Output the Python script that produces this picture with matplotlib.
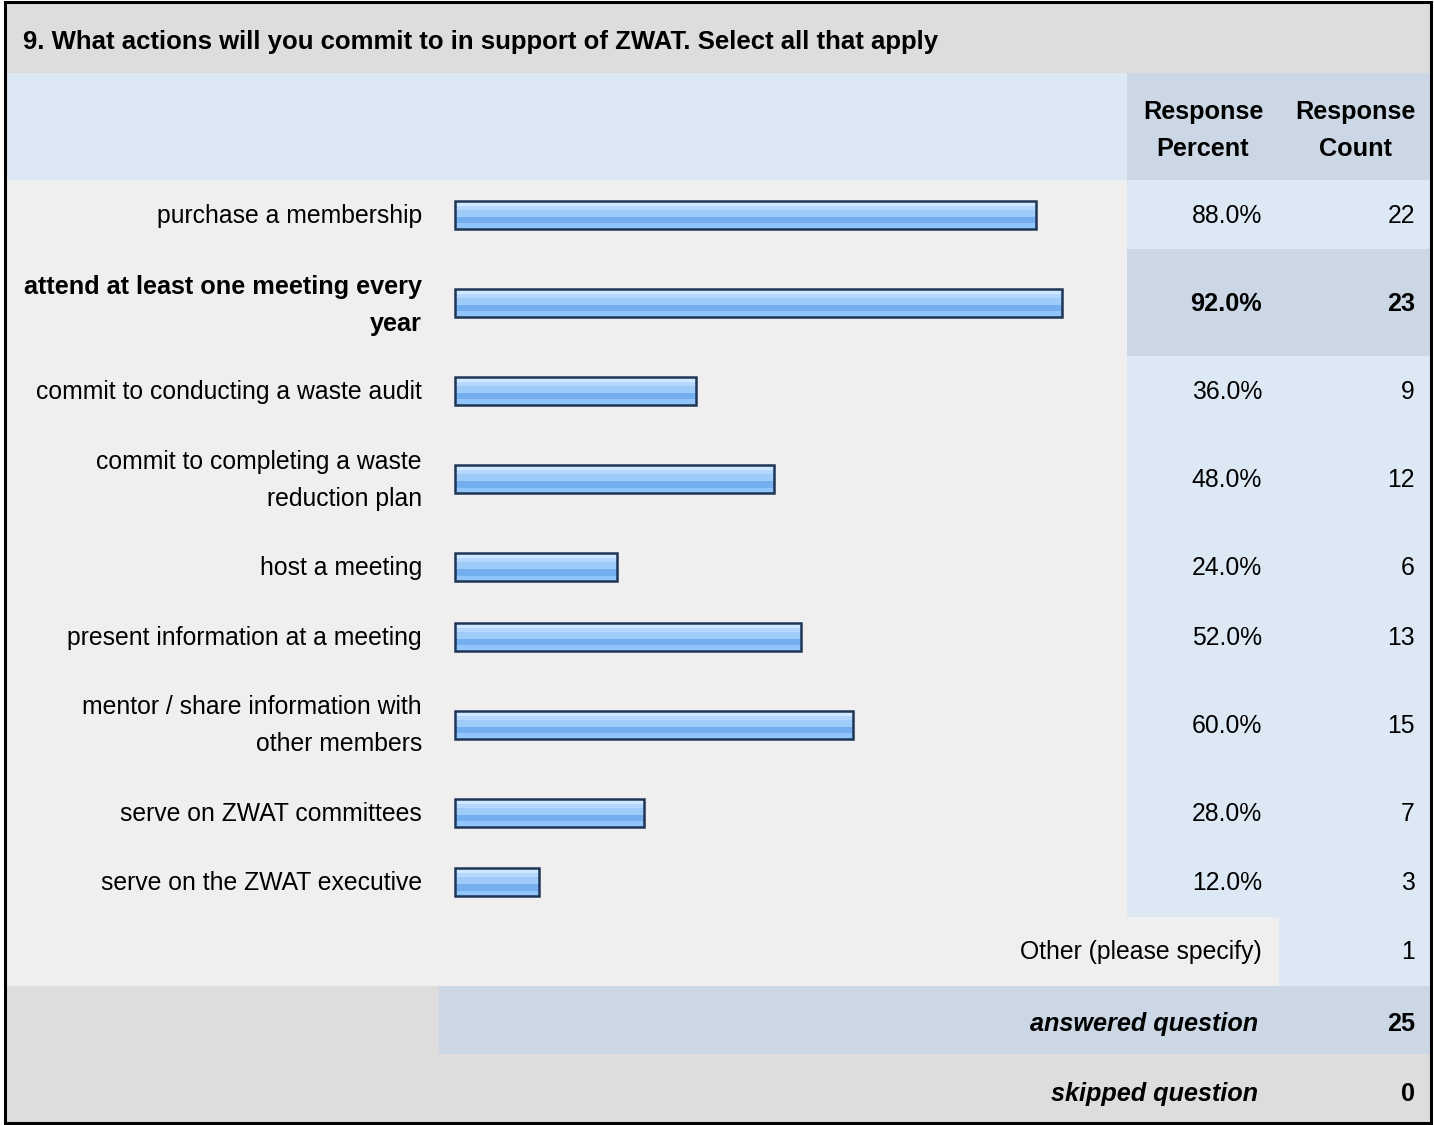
import matplotlib
matplotlib.use("Agg")
import matplotlib.pyplot as plt
from matplotlib.patches import Rectangle

plt.rcParams['font.family'] = ['Liberation Sans', 'DejaVu Sans']

title = "9. What actions will you commit to in support of ZWAT. Select all that apply"
col_headers = ["Response\nPercent", "Response\nCount"]
answers = [
    "purchase a membership",
    "attend at least one meeting every\nyear",
    "commit to conducting a waste audit",
    "commit to completing a waste\nreduction plan",
    "host a meeting",
    "present information at a meeting",
    "mentor / share information with\nother members",
    "serve on ZWAT committees",
    "serve on the ZWAT executive",
]
percent = [88.0, 92.0, 36.0, 48.0, 24.0, 52.0, 60.0, 28.0, 12.0]
count = [22, 23, 9, 12, 6, 13, 15, 7, 3]
other_label = "Other (please specify)"
other_count = 1
answered = 25
skipped = 0

W, H = 1434, 1125
GREY = "#dddddd"
PANEL = "#efefef"
LBLUE = "#dde8f5"
DBLUE = "#cbd7e5"
FS = 17.8      # regular text
FSB = 18.2     # bold text
FST = 18.5     # title

fig = plt.figure(figsize=(W / 100, H / 100), dpi=100)
ax = fig.add_axes([0, 0, 1, 1])
ax.set_xlim(0, W)
ax.set_ylim(H, 0)
ax.axis('off')

L, R, T, B = 5, 1431, 2, 1123
col1, col2 = 1127, 1279


def box(x0, y0, x1, y1, c):
    ax.add_patch(Rectangle((x0, y0), x1 - x0, y1 - y0, facecolor=c, edgecolor='none'))


def txt(x, yc, s, ha='right', fontweight='normal', **kw):
    # yc is the visual centre of a line; put the baseline a bit below it
    lines = s.split("\n")
    n = len(lines)
    fs = FSB if fontweight == 'bold' else FS
    for i, line in enumerate(lines):
        off = (i - (n - 1) / 2) * 37
        ax.text(x, yc + off + 8, line, ha=ha, va='baseline', fontsize=fs,
                fontweight=fontweight, color='black', **kw)


box(L, T, R, B, PANEL)
box(L, T, R, 73, GREY)
box(L, 73, col1, 180, LBLUE)
box(col1, 73, R, 180, DBLUE)
ax.text(23, 41 + 8, title, ha='left', va='baseline', fontsize=FST, fontweight='bold', color='black')
txt(1203, 129.5, col_headers[0], ha='center', fontweight='bold')
txt(1355, 129.5, col_headers[1], ha='center', fontweight='bold')

top = count.index(max(count))

# row layout
y = 180
centers = []
for i, a in enumerate(answers):
    h = 107 if "\n" in a else 69.3
    centers.append(y + h / 2)
    bold = 'bold' if i == top else 'normal'
    box(col1, y, R, y + h, DBLUE if i == top else LBLUE)
    txt(422, y + h / 2 + (2 if i == top else 0), a, fontweight=bold)
    txt(1262, y + h / 2, f"{percent[i]:.1f}%", fontweight=bold)
    txt(1415, y + h / 2, str(count[i]), fontweight=bold)
    y += h

# other row
box(col2, y, R, y + 69, LBLUE)
txt(1262, y + 34.5, other_label)
txt(1415, y + 34.5, str(other_count))
y += 69

box(L, y, 439, y + 68, GREY)
box(439, y, R, y + 68, DBLUE)
txt(1258, y + 37, "answered question", fontweight='bold', fontstyle='italic')
txt(1415, y + 37, str(answered), fontweight='bold')
y += 68

box(L, y, R, B, GREY)
txt(1258, y + 39, "skipped question", fontweight='bold', fontstyle='italic')
txt(1415, y + 39, str(skipped), fontweight='bold')

ax.add_patch(Rectangle((L, T), R - L, B - T, facecolor='none', edgecolor='black', linewidth=2.2, zorder=5))

# bars: 0% sits at x=460.5 px, 6.54 px per percent; bars start a little left of zero
x0, scale = 460.5, 6.54
lead = (x0 - 455) / scale
axb = fig.add_axes([455 / W, 0, (100 + lead) * scale / W, 1])
axb.set_xlim(-lead, 100)
axb.set_ylim(H, 0)
axb.axis('off')

bh = 28
stripes = [
    (0.00, 0.18, "#cfe7ff"),
    (0.18, 0.32, "#b3d7fd"),
    (0.32, 0.58, "#9ecbf8"),
    (0.58, 0.80, "#75aeef"),
    (0.80, 1.00, "#90c5f9"),
]
widths = [p + lead for p in percent]
for f0, f1, c in stripes:
    ys = [yc - bh / 2 + (f0 + f1) / 2 * bh for yc in centers]
    axb.barh(ys, widths, height=(f1 - f0) * bh, left=-lead, color=c, edgecolor='none')
axb.barh(centers, widths, height=bh, left=-lead, fill=False, edgecolor='#1e3556',
         linewidth=1.8, clip_on=False)

fig.savefig("out.png", dpi=100)
